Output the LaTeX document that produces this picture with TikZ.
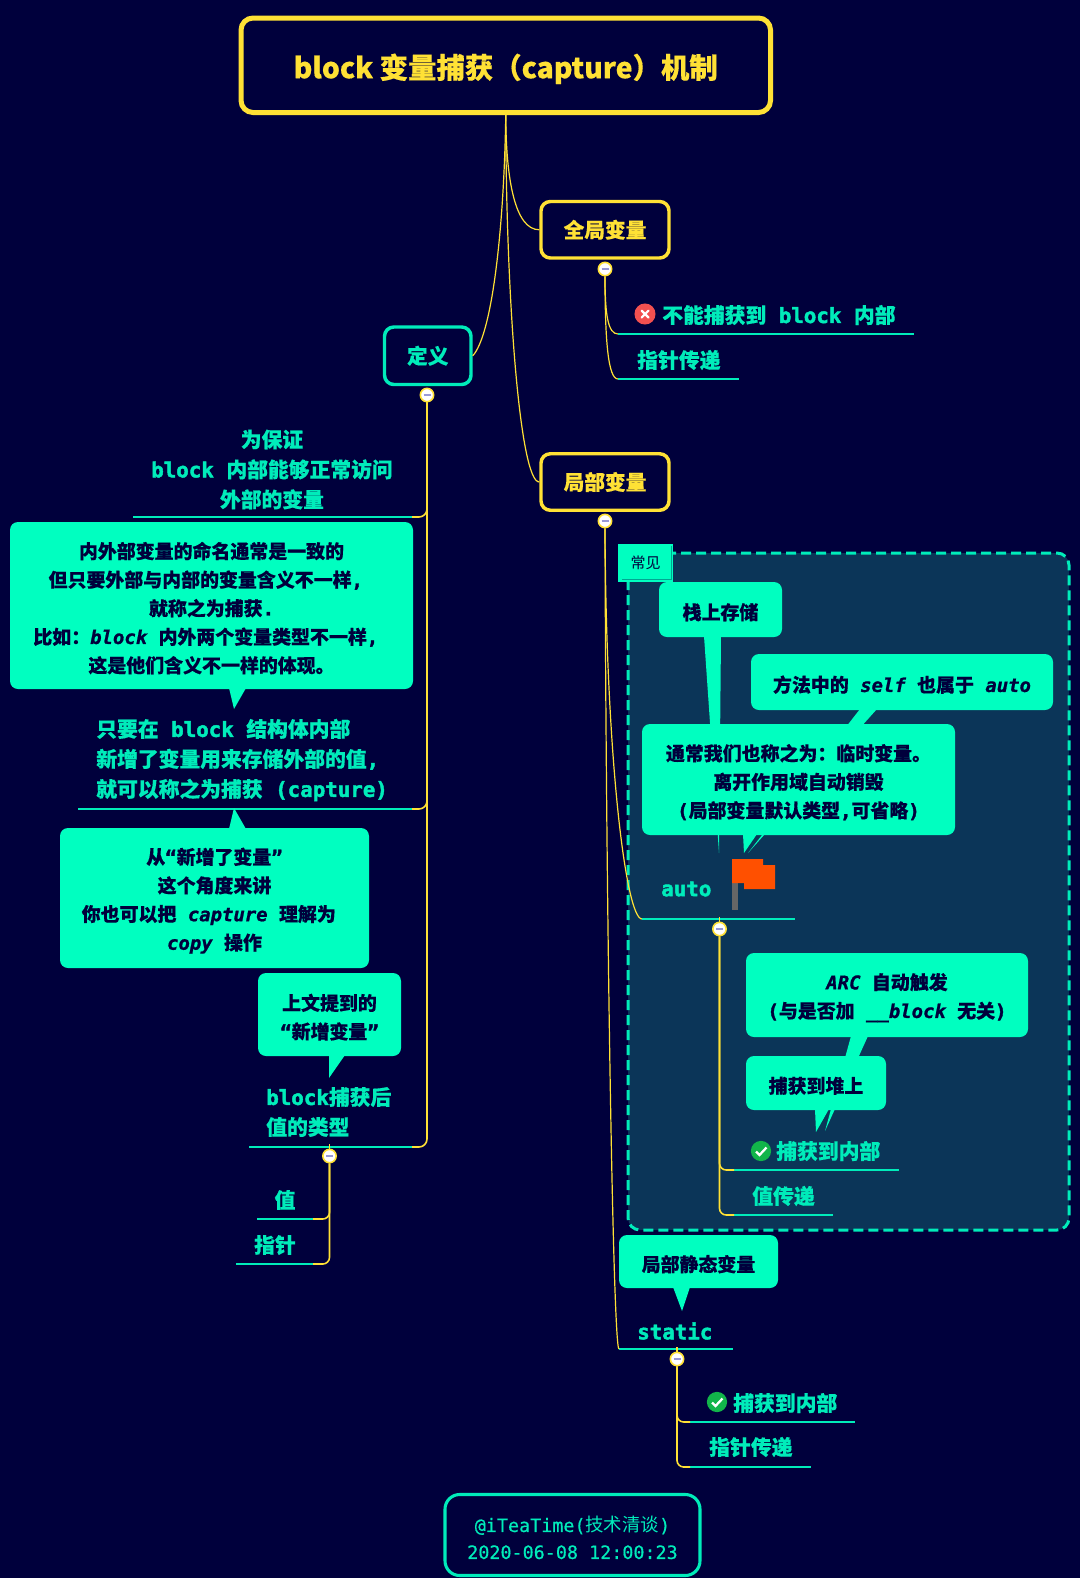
\documentclass[tikz,border=0pt]{standalone}
\usepackage{fontspec}
\setmainfont{Noto Sans CJK SC}[BoldFeatures={FakeBold=0.4}]
\newfontfamily\monof{DejaVu Sans Mono}[BoldFont={DejaVu Sans Mono Bold},BoldItalicFont={DejaVu Sans Mono Bold Oblique},BoldFeatures={FakeBold=2},BoldItalicFeatures={FakeBold=1}]
\newfontfamily\monomed{DejaVu Sans Mono}[FakeBold=0.5]
\newcommand{\mn}[1]{{\monof #1}}
\newcommand{\mi}[1]{{\monof\itshape #1}}
\newcommand{\up}{\rule{0pt}{1.15em}}
\begin{document}
\begin{tikzpicture}[x=0.75pt,y=-0.75pt,
    sized/.style 2 args={minimum width=#1*0.75pt,minimum height=#2*0.75pt,inner sep=0pt},
    rootbox/.style={draw=kYellow,line width=3.75pt,rounded corners=9pt,text=kYellow,
      execute at begin node={\rule{0pt}{1.12em}},
      font=\fontsize{21.3}{26}\selectfont\bfseries},
    mainbox/.style={draw=kYellow,line width=2.6pt,rounded corners=7pt,text=kYellow,
      font=\fontsize{15.5}{20}\selectfont\bfseries},
    bubble/.style={fill=kBubble,rounded corners=6pt,text=kDark,align=center,
      font=\fontsize{14.2}{21.4}\selectfont\bfseries},
    topic/.style={text=kTopic,inner sep=0pt,font=\fontsize{15.6}{22.5}\selectfont\bfseries},
    tagbox/.style={fill=kBubble,text=kDark,font=\fontsize{11.25}{14}\selectfont},
    footbox/.style={draw=kTopic,line width=2.3pt,rounded corners=11pt,text=kTopic,align=center,
      font=\fontsize{13.8}{20.25}\selectfont},
    dot/.style={circle,draw=kYellow,fill=white,line width=1.2pt,minimum size=10pt,inner sep=0pt},
    conn/.style={draw=kYellow,line width=0.9pt},
    stem/.style={draw=kYellow,line width=1.2pt},
    uline/.style={draw=kTopic,line width=1.1pt}]
  % colors
  \definecolor{kBack}{HTML}{00003C}
  \definecolor{kDark}{HTML}{00003C}
  \definecolor{kYellow}{HTML}{FFE135}
  \definecolor{kTopic}{HTML}{00ECBA}
  \definecolor{kBubble}{HTML}{00FFC0}
  \definecolor{kPanel}{HTML}{0B3558}
  \definecolor{kRed}{HTML}{F25050}
  \definecolor{kGreen}{HTML}{12B54A}
  \definecolor{kFlag}{HTML}{FF5000}
  \useasboundingbox (0,0) rectangle (1080,1578);
  \fill[kBack] (0,0) rectangle (1080,1578);

  % panel
  \draw[kTopic,fill=kPanel,line width=2.25pt,rounded corners=9pt,dash pattern=on 7.5pt off 3.75pt]
    (628,553) rectangle (1069,1230);

  % boxes
  \node[rootbox,sized={529.5}{94.5}] (root) at (505.75,65.25) {block 变量捕获（capture）机制};
  \node[mainbox,sized={128}{56.5}] (global) at (605,229.75) {全局变量};
  \node[mainbox,sized={128}{56.5}] (local) at (605,482) {局部变量};
  \node[mainbox,sized={86.5}{57.5},draw=kTopic,text=kTopic] (define) at (427.75,355.75) {定义};

  % underlines
  \foreach \nm/\xa/\xb/\y in {leafNo/618/914/334, leafPtr/618/739/379, defWhy/133/412/517,
      defOnly/78/412/809, defType/249/412/1147, typeVal/257/313/1219, typePtr/236/313/1264,
      autoTop/642/795/919, autoIn/734/899/1170, autoVal/734/833/1215,
      statTop/619/733/1349, statIn/690/855/1422, statPtr/690/811/1467} {
    \coordinate (\nm-l) at (\xa,\y);
    \coordinate (\nm-r) at (\xb,\y);
    \draw[uline] (\nm-l) -- (\nm-r);
  };

  % folding dots
  \foreach \nm/\x/\y in {globalDot/605/269, defineDot/427/395, localDot/605/521,
      typeDot/329.5/1156, autoDot/719.5/929, statDot/677/1359} {
    \node[dot] (\nm) at (\x,\y) {};
  };

  % branches
  \draw[conn] (root.south) .. controls (506,180) and (515,229.75) .. (global.west);
  \draw[conn] (root.south) .. controls (504,230) and (492,335) .. (define.east);
  \draw[conn] (root.south) .. controls (506,300) and (520,482) .. (local.west);
  \draw[conn] (globalDot.south) .. controls (605,315) and (608,334) .. (leafNo-l);
  \draw[conn] (globalDot.south) .. controls (605,340) and (608,379) .. (leafPtr-l);
  \draw[conn] (localDot.south) .. controls (606,760) and (626,919) .. (autoTop-l);
  \draw[conn] (localDot.south) .. controls (606,900) and (613,1349) .. (statTop-l);
  \foreach \t in {defWhy,defOnly,defType}
    \draw[stem,rounded corners=6pt] (defineDot.south) |- (\t-r);
  \foreach \t in {typeVal,typePtr}
    \draw[stem,rounded corners=5pt] (typeDot.south) |- (\t-r);
  \foreach \t in {autoIn,autoVal}
    \draw[stem,rounded corners=5pt] (autoDot.south) |- (\t-l);
  \foreach \t in {statIn,statPtr}
    \draw[stem,rounded corners=5pt] (statDot.south) |- (\t-l);
  \foreach \nm in {typeDot,autoDot,statDot}
    \draw[conn] (\nm.north) -- ++(0,-5);
  \foreach \nm in {globalDot,defineDot,localDot,typeDot,autoDot,statDot}
    \draw[color=black!40!blue!40!white,line width=1.1pt] (\nm.center) ++(-3.5,0) -- ++(7,0);

  % tails
  \foreach \xa/\xb/\ya/\tx/\ty in {229/246/688/234/709, 229/246/829/234/808, 329/345/1055/329/1078,
      704/721/636/719/853, 860/877/709/748/853, 743/757/834/744/853,
      851/868/1036/825/1131, 815/829/1109/816/1132, 673/690/1287/682/1311} {
    \fill[kBubble] (\xa,\ya) -- (\xb,\ya) -- (\tx,\ty) -- cycle;
  };

  % bubbles
  \node[bubble,sized={403}{167}] (bubName) at (211.5,605.5) {\up 内外部变量的命名通常是一致的\\
    但只要外部与内部的变量含义不一样\mn{,\phantom{x}}\\就称之为捕获\mn{.}\\
    比如：\mi{block }内外两个变量类型不一样\mn{,\phantom{x}}\\这是他们含义不一样的体现。};
  \node[bubble,sized={309}{140}] (bubCopy) at (214.5,898) {\up 从\mn{“}新增了变量\mn{”}\\这个角度来讲\\
    你也可以把\mi{ capture }理解为\mn{\phantom{x}}\\\mi{copy }操作};
  \node[bubble,sized={143}{83}] (bubNew) at (329.5,1014.5) {\up 上文提到的\\\mn{“}新增变量\mn{”}};
  \node[bubble,sized={123}{55}] (bubStack) at (720.5,609.5) {\up 栈上存储};
  \node[bubble,sized={302}{56}] (bubSelf) at (902,682) {\up 方法中的\mi{ self }也属于\mi{ auto}};
  \node[bubble,sized={313}{111}] (bubTemp) at (798.5,779.5) {\up 通常我们也称之为：临时变量。\\
    离开作用域自动销毁\\\mn{(}局部变量默认类型\mn{,}可省略\mn{)}};
  \node[bubble,sized={282}{84}] (bubArc) at (887,995) {\up\mi{ARC }自动触发\\
    \mn{(}与是否加\mi{ \_\_block }无关\mn{)}};
  \node[bubble,sized={140}{54}] (bubHeap) at (816,1083) {\up 捕获到堆上};
  \node[bubble,sized={159}{53}] (bubStatic) at (698.5,1261.5) {\up 局部静态变量};

  % tag
  \node[tagbox,sized={55}{38}] (tagCommon) at (645.5,563) {常见};
  \draw[color=kBack!35!kBubble,line width=0.5pt] (622,579) -- (671,579) -- (671,546);

  % topics
  \node[topic,anchor=west] (tNo) at (662,315) {不能捕获到\mn{ block }内部};
  \node[topic,anchor=west] (tPtr) at (637,360) {指针传递};
  \node[topic,align=center] (tWhy) at (272,469.5) {为保证\\\mn{block }内部能够正常访问\\外部的变量};
  \node[topic,align=left,anchor=west] (tOnly) at (96,760) {只要在\mn{ block }结构体内部\\
    新增了变量用来存储外部的值\mn{,}\\就可以称之为捕获\mn{ (capture)}};
  \node[topic,align=left,anchor=west] (tType) at (266,1112) {\mn{block}捕获后\\值的类型};
  \node[topic] (tVal) at (285,1200) {值};
  \node[topic] (tPoint) at (275,1245) {指针};
  \node[topic,anchor=west] (tAuto) at (661,889) {\mn{auto}};
  \node[topic,anchor=west] (tIn) at (776,1151) {捕获到内部};
  \node[topic,anchor=west] (tCopy) at (752,1196) {值传递};
  \node[topic,anchor=west] (tStatic) at (637,1331) {\mn{static}};
  \node[topic,anchor=west] (tIn2) at (733,1403) {捕获到内部};
  \node[topic,anchor=west] (tPtr2) at (709,1447) {指针传递};

  % icons
  \fill[kRed] (645,314) circle (7.9pt);
  \draw[white,line width=1.6pt,line cap=round] (641.5,310.5) -- (648.5,317.5) (648.5,310.5) -- (641.5,317.5);
  \foreach \x/\y in {761/1151,717/1402} {
    \fill[kGreen] (\x,\y) circle (7.6pt);
    \draw[white,line width=1.7pt] (\x-5,\y+0.5) -- (\x-1.5,\y+4) -- (\x+5.5,\y-3.5);
  };

  % flag
  \fill[black!60!white] (732,882) rectangle (738,910);
  \fill[kFlag] (732,859) -- (763,859) -- (763,865) -- (775,865) -- (775,889) -- (744,889) -- (744,883) -- (732,883) -- cycle;

  % footer
  \node[footbox,sized={255}{81}] (foot) at (572.5,1535) {\up\monomed @iTeaTime(\normalfont 技术清谈\monomed )\\\monomed 2020-06-08 12:00:23};
\end{tikzpicture}
\end{document}
